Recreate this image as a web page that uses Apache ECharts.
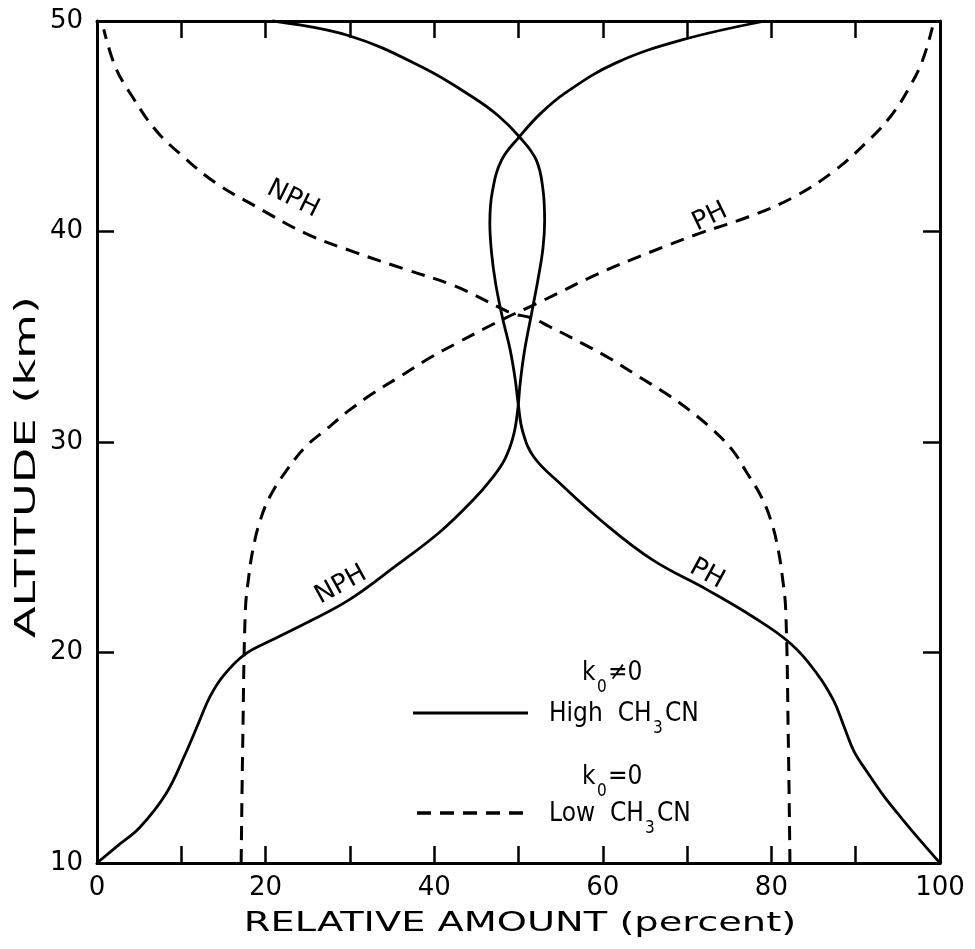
<!DOCTYPE html>
<html>
<head>
<meta charset="utf-8">
<script src="https://cdn.jsdelivr.net/npm/echarts@6/dist/echarts.min.js"></script>
<style>
  html, body { margin: 0; padding: 0; background: #fff; }
  #chart { width: 975px; height: 949px; }
</style>
</head>
<body>
<div id="chart"></div>
<script>
// altitude profiles, [relative amount %, altitude km]
var highNph = [[0,10],[2.4,10.8],[5.1,11.7],[8.2,13.3],[10.5,15.2],[12.1,16.7],[13.4,17.9],[15.0,18.9],[17.5,19.9],
  [20.8,20.6],[24.8,21.4],[29.9,22.5],[35.4,24.1],[40.6,25.7],[44.5,27.2],[46.9,28.3],[48.4,29.2],[49.4,30.3],
  [49.9,31.5],[50.2,32.8],[50.7,34.3],[51.5,36.0],[52.3,37.7],[52.9,39.2],[53.1,40.5],[52.9,42.0],
  [52.1,43.4],[50.1,44.5],[47.6,45.5],[44.5,46.4],[38.6,47.8],[29.9,49.3],[20.8,50]];
var highPh = [[100,10],[97.6,11.1],[95.5,12.1],[93.3,13.2],[91.4,14.3],[89.8,15.3],[88.6,16.5],[87.4,17.7],[85.4,19.0],
  [82.2,20.45],[77.8,21.7],[72.3,23.0],[65.9,24.4],[60.0,26.2],[55.0,28.0],[51.8,29.3],[50.5,30.5],
  [50.0,31.7],[49.6,33.0],[49.0,34.4],[48.1,35.9],[47.3,37.5],[46.8,39.0],[46.6,40.4],[46.9,41.9],
  [48.0,43.4],[50.1,44.5],[52.6,45.6],[55.6,46.6],[61.5,48.0],[69.4,49.1],[79.3,50]];
var lowPh = [[17.1,10],[17.3,16],[17.6,22.0],[18.0,23.6],[18.5,24.9],[19.3,26.2],[20.5,27.4],[22.4,28.6],
  [24.8,29.8],[27.2,30.6],[29.9,31.5],[32.7,32.3],[35.9,33.1],[39.5,34.0],[42.7,34.7],[46.5,35.5],
  [48.5,35.9],[51.2,36.4],[52.8,36.7],[59.5,38.0],[65.5,39.0],[71.4,39.9],[77.3,40.7],[82.5,41.6],
  [87.2,42.8],[91.2,44.2],[94.2,45.5],[96.3,46.8],[97.9,48.1],[99.1,49.7]];
var lowNph = [[82.2,10],[82.0,16],[81.7,22.0],[81.3,23.6],[80.8,24.9],[80.0,26.2],[78.8,27.4],[77.0,28.6],
  [75.4,29.6],[73.0,30.6],[70.3,31.5],[67.5,32.3],[64.3,33.1],[60.7,34.0],[57.5,34.7],[53.6,35.5],
  [51.5,35.9],[49.3,36.1],[47.7,36.4],[42.5,37.4],[36.6,38.2],[30.7,39.0],[24.8,39.9],[18.8,41.2],
  [14.1,42.3],[10.1,43.6],[7.0,44.8],[4.2,46.4],[2.2,47.8],[0.8,49.6]];

var xLabels = [0, 20, 40, 60, 80, 100];
var yLabels = [10, 20, 30, 40, 50];

var FONT = 'DejaVu Sans';
var chart = echarts.init(document.getElementById('chart'));

function axisX(pos, labels) {
  return {
    type: 'value', position: pos, min: 0, max: 100, interval: 10,
    axisLine: { onZero: false, lineStyle: { color: '#000', width: 3 } },
    axisTick: { inside: true, length: 17, lineStyle: { color: '#000', width: 2.5 } },
    axisLabel: {
      show: labels, margin: 12, color: '#000', fontSize: 26, fontFamily: FONT,
      formatter: function (v) { return xLabels.indexOf(v) >= 0 ? String(v) : ''; }
    },
    splitLine: { show: false }
  };
}
function axisY(pos, labels) {
  return {
    type: 'value', position: pos, min: 10, max: 50, interval: 10,
    axisLine: { onZero: false, lineStyle: { color: '#000', width: 3 } },
    axisTick: { inside: true, length: 17, lineStyle: { color: '#000', width: 2.5 } },
    axisLabel: {
      show: labels, margin: 14, color: '#000', fontSize: 26, fontFamily: FONT,
      formatter: function (v) { return yLabels.indexOf(v) >= 0 ? String(v) : ''; }
    },
    splitLine: { show: false }
  };
}
function curve(data, dashed) {
  return {
    type: 'line', data: data, symbol: 'none', smooth: 0.4, clip: false, silent: true,
    lineStyle: { color: '#000', width: dashed ? 3 : 2.8, type: dashed ? [14, 9] : 'solid' }
  };
}
function txt(x, y, s, opt) {
  opt = opt || {};
  return {
    type: 'text', x: x, y: y, rotation: opt.rot || 0, scaleX: opt.sx || 1,
    style: {
      text: s, fill: '#000', fontSize: opt.size || 26, fontFamily: FONT,
      align: opt.align || 'left', verticalAlign: 'middle'
    }
  };
}
var L = { sx: 0.9 };
var S = { sx: 0.9, size: 17 };

var option = {
  animation: false,
  backgroundColor: '#fff',
  grid: { left: 97, right: 35, top: 21, bottom: 86 },
  xAxis: [axisX('bottom', true), axisX('top', false)],
  yAxis: [axisY('left', true), axisY('right', false)],
  series: [curve(highNph, false), curve(highPh, false), curve(lowPh, true), curve(lowNph, true)],
  graphic: [
    txt(520, 924, 'RELATIVE AMOUNT (percent)', { align: 'center', sx: 1.42, size: 27 }),
    txt(28, 467, 'ALTITUDE (km)', { align: 'center', rot: Math.PI / 2, sx: 1.65, size: 28 }),
    txt(293, 199, 'NPH', { align: 'center', rot: -0.46 }),
    txt(710, 217, 'PH', { align: 'center', rot: 0.45 }),
    txt(341, 585, 'NPH', { align: 'center', rot: 0.5 }),
    txt(707, 574, 'PH', { align: 'center', rot: -0.5 }),
    // legend
    txt(582, 673, 'k', L), txt(597, 688, '0', S), txt(608, 673, '\u22600', L),
    { type: 'line', shape: { x1: 413, y1: 713, x2: 528, y2: 713 }, style: { stroke: '#000', lineWidth: 3 } },
    txt(549, 714, 'High  CH', L), txt(653, 729, '3', S), txt(665, 714, 'CN', L),
    txt(582, 777, 'k', L), txt(597, 792, '0', S), txt(608, 777, '=0', L),
    { type: 'line', shape: { x1: 417, y1: 813, x2: 525, y2: 813 }, style: { stroke: '#000', lineWidth: 3.5, lineDash: [14, 9] } },
    txt(549, 814, 'Low  CH', L), txt(645, 829, '3', S), txt(657, 814, 'CN', L)
  ]
};
chart.setOption(option);
</script>
</body>
</html>
